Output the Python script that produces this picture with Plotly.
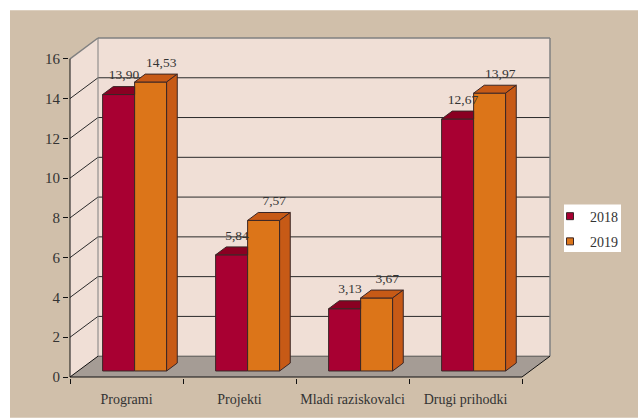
import plotly.graph_objects as go

# ---------------- data ----------------
categories = ["Programi", "Projekti", "Mladi raziskovalci", "Drugi prihodki"]
series_names = ["2018", "2019"]
values_2018 = [13.90, 5.84, 3.13, 12.67]
values_2019 = [14.53, 7.57, 3.67, 13.97]
y_ticks = [0, 2, 4, 6, 8, 10, 12, 14, 16]

series_values = [values_2018, values_2019]

# ---------------- style ----------------
FONT = "Liberation Serif"
TXT = "#333333"
BG = "#D0BFAA"
WALL = "#F0DFD6"
FLOOR = "#A59C95"
FRAME = "#808080"
GRID = "#2a2a2a"
EDGE = "#3a2626"
front_cols = ["#A80032", "#DC7519"]
shade_cols = ["#8A0022", "#C75A16"]

# pseudo-3D geometry, in axis units
DX, DY = 28 / 113, 21 / 20.0625     # depth offset of the back wall
F0, F1 = 0.29, 0.67                 # bar front/back depth (fraction)
W = 32 / 113                        # bar width
n = len(categories)
ymax = y_ticks[-1]
b0, b1 = F0 * DY, F1 * DY
ddx = (F1 - F0) * DX
LABEL_LIFT = 4 / 20.0625

# plot area in pixels
L, R, T, B = 69, 551, 37, 381
PW, PH = R - L, B - T
def px(xp): return (xp - L) / PW
def py(yp): return (B - yp) / PH

fig = go.Figure()
shapes = []

# tan background panel with white strips top/left
shapes.append(dict(type="rect", xref="paper", yref="paper", layer="below",
                   x0=px(10), x1=px(640), y0=py(10), y1=py(421),
                   fillcolor=BG, line=dict(width=0)))
# legend white box
shapes.append(dict(type="rect", xref="paper", yref="paper", layer="below",
                   x0=px(564), x1=px(621), y0=py(206), y1=py(254),
                   fillcolor="white", line=dict(width=0)))

def path(pts):
    return "M " + " L ".join(f"{x},{y}" for x, y in pts) + " Z"

# walls and floor
shapes.append(dict(type="path", xref="x", yref="y", layer="below",
                   path=path([(DX, DY), (n + DX, DY), (n + DX, ymax + DY), (DX, ymax + DY)]),
                   fillcolor=WALL, line=dict(width=0)))
shapes.append(dict(type="path", xref="x", yref="y", layer="below",
                   path=path([(0, 0), (DX, DY), (DX, ymax + DY), (0, ymax)]),
                   fillcolor=WALL, line=dict(width=0)))
shapes.append(dict(type="path", xref="x", yref="y", layer="below",
                   path=path([(0, 0), (n, 0), (n + DX, DY), (DX, DY)]),
                   fillcolor=FLOOR, line=dict(width=0)))

def seg(x0, y0, x1, y1, color, width=1):
    shapes.append(dict(type="line", xref="x", yref="y", layer="below",
                       x0=x0, y0=y0, x1=x1, y1=y1,
                       line=dict(color=color, width=width)))

# gridlines
for v in y_ticks[1:-1]:
    seg(0, v, DX, v + DY, GRID)
    seg(DX, v + DY, n + DX, v + DY, GRID)
# frame
seg(0, ymax, DX, ymax + DY, FRAME, 1.5)
seg(DX, ymax + DY, n + DX, ymax + DY, FRAME, 1.5)
seg(DX, DY, DX, ymax + DY, FRAME, 1)
seg(n + DX, DY, n + DX, ymax + DY, FRAME, 1.5)
seg(DX, DY, n + DX, DY, "#555555", 1)
seg(0, 0, DX, DY, "#111111", 1)
seg(n, 0, n + DX, DY, "#111111", 1)
# front axis lines
seg(0, 0, 0, ymax, "#111111", 1)
seg(0, 0, n, 0, "#111111", 1)

# bars (front faces)
centers = [i + 0.5 + F0 * DX for i in range(n)]
bar_left = []
for s, vals in enumerate(series_values):
    xs = [c + (s - 0.5) * W for c in centers]
    bar_left.append([x - W / 2 for x in xs])
    fig.add_trace(go.Bar(x=xs, y=vals, base=b0, width=W,
                         marker=dict(color=front_cols[s], line=dict(color=EDGE, width=1)),
                         showlegend=False, hoverinfo="skip"))

# top and side faces
for s, vals in enumerate(series_values):
    for i, v in enumerate(vals):
        xl = bar_left[s][i]
        xr = xl + W
        nxt = series_values[s + 1][i] if s + 1 < len(series_values) else None
        if nxt is not None and nxt >= v:
            top = [(xl, v + b0), (xr, v + b0), (xr, v + b1), (xl + ddx, v + b1), (xl, v + b0)]
        else:
            top = [(xl, v + b0), (xr, v + b0), (xr + ddx, v + b1), (xl + ddx, v + b1), (xl, v + b0)]
        fig.add_trace(go.Scatter(x=[p[0] for p in top], y=[p[1] for p in top],
                                 mode="lines", fill="toself", fillcolor=shade_cols[s],
                                 line=dict(color=EDGE, width=1),
                                 showlegend=False, hoverinfo="skip"))
        if nxt is None or nxt < v:
            side = [(xr, b0), (xr, v + b0), (xr + ddx, v + b1), (xr + ddx, b1), (xr, b0)]
            fig.add_trace(go.Scatter(x=[p[0] for p in side], y=[p[1] for p in side],
                                     mode="lines", fill="toself", fillcolor=shade_cols[s],
                                     line=dict(color=EDGE, width=1),
                                     showlegend=False, hoverinfo="skip"))

# data labels
label_shift = [ddx / 2, ddx]
for s, vals in enumerate(series_values):
    fig.add_trace(go.Scatter(
        x=[bar_left[s][i] + W / 2 + label_shift[s] for i in range(n)],
        y=[v + b1 + LABEL_LIFT for v in vals],
        mode="text", text=[f"{v:.2f}".replace(".", ",") for v in vals],
        textposition="top center",
        textfont=dict(family=FONT, size=13.5, color=TXT),
        cliponaxis=False, showlegend=False, hoverinfo="skip"))

# legend entries
for s, name in enumerate(series_names):
    fig.add_trace(go.Scatter(x=[None], y=[None], mode="markers", name=name,
                             legendgroup=name,
                             marker=dict(symbol="square", size=7, color=front_cols[s],
                                         line=dict(color=EDGE, width=1))))

fig.update_layout(
    width=638, height=419,
    margin=dict(l=L, r=638 - R, t=T, b=419 - B, pad=0),
    paper_bgcolor="white", plot_bgcolor=BG,
    barmode="overlay",
    shapes=shapes,
    font=dict(family=FONT, size=14, color=TXT),
    xaxis=dict(range=[(L - 70) / 113, (R - 70) / 113], showgrid=False, zeroline=False,
               showline=False, tickmode="array",
               tickvals=[i + 0.5 for i in range(n)], ticktext=categories,
               ticks="outside", ticklen=8, tickcolor="rgba(0,0,0,0)",
               tickfont=dict(family=FONT, size=14, color=TXT),
               minor=dict(tickmode="array", tickvals=list(range(n + 1)), ticks="outside",
                          ticklen=5, tickcolor="#111111", tickwidth=1, showgrid=False),
               fixedrange=True),
    yaxis=dict(range=[(380 - B) / 20.0625, (380 - T) / 20.0625], showgrid=False,
               zeroline=False, showline=False, tickmode="array", tickvals=y_ticks,
               ticks="outside", ticklen=5, tickcolor="#111111",
               tickfont=dict(family=FONT, size=15, color=TXT), fixedrange=True),
    legend=dict(x=px(550), y=py(202), xanchor="left", yanchor="top",
                bgcolor="rgba(0,0,0,0)", borderwidth=0, tracegroupgap=4,
                font=dict(family=FONT, size=14, color=TXT)),
)

fig.write_html("out.html", config={"displayModeBar": False},
               post_script="document.body.style.margin='0';document.body.style.padding='0';")
